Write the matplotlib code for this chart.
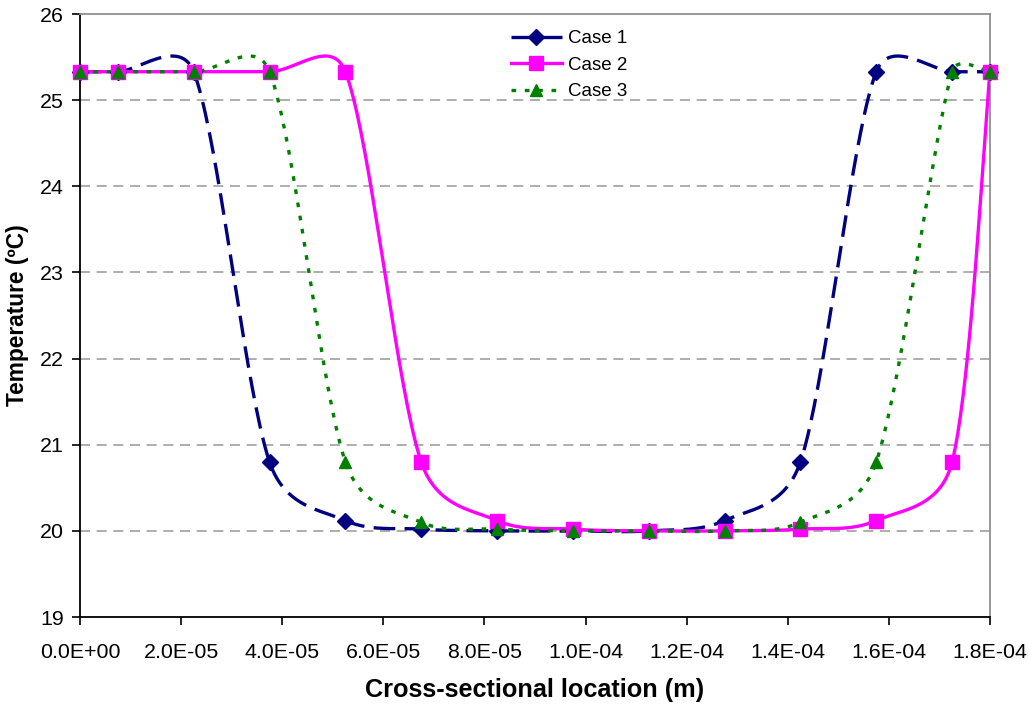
import numpy as np
import matplotlib.pyplot as plt

plt.rcParams['font.family'] = ['Liberation Sans', 'DejaVu Sans']

# cross-sectional sample positions (m)
x_pos = [0.0, 7.5e-6, 2.25e-5, 3.75e-5, 5.25e-5, 6.75e-5, 8.25e-5, 9.75e-5,
         1.125e-4, 1.275e-4, 1.425e-4, 1.575e-4, 1.725e-4, 1.8e-4]

# temperature (deg C)
case1 = [25.33, 25.33, 25.33, 20.80, 20.12, 20.02, 20.00, 20.00,
         20.00, 20.12, 20.80, 25.33, 25.33, 25.33]
case2 = [25.33, 25.33, 25.33, 25.33, 25.33, 20.80, 20.12, 20.02,
         20.00, 20.00, 20.02, 20.12, 20.80, 25.33]
case3 = [25.33, 25.33, 25.33, 25.33, 20.80, 20.10, 20.02, 20.00,
         20.00, 20.00, 20.10, 20.80, 25.33, 25.33]

x_ticks = np.arange(0, 1.81e-4, 2e-5)
x_tick_labels = ['0.0E+00', '2.0E-05', '4.0E-05', '6.0E-05', '8.0E-05',
                 '1.0E-04', '1.2E-04', '1.4E-04', '1.6E-04', '1.8E-04']
y_ticks = [19, 20, 21, 22, 23, 24, 25, 26]


def smooth_curve(ax, xs, ys, n=40):
    # spreadsheet-style smoothed line: cubic Bezier per segment, built in
    # display space; tangent = (next - prev) / 6, capped at half the segment
    pts = ax.transData.transform(np.column_stack([xs, ys]))
    m = len(pts)
    out = [pts[0]]
    t = np.linspace(0, 1, n)[1:, None]
    for i in range(m - 1):
        p0, p1 = pts[i], pts[i + 1]
        prev = pts[i - 1] if i > 0 else p0
        nxt = pts[i + 2] if i + 2 < m else p1
        half = np.hypot(*(p1 - p0)) / 2
        tan0 = (p1 - prev) / 6
        tan1 = (nxt - p0) / 6
        l0, l1 = np.hypot(*tan0), np.hypot(*tan1)
        if l0 > half:
            tan0 = tan0 * half / l0
        if l1 > half:
            tan1 = tan1 * half / l1
        c1 = p0 + tan0
        c2 = p1 - tan1
        seg = ((1 - t) ** 3) * p0 + 3 * ((1 - t) ** 2) * t * c1 \
            + 3 * (1 - t) * t ** 2 * c2 + t ** 3 * p1
        out.extend(seg)
    out = np.array(out)
    data = ax.transData.inverted().transform(out)
    return data[:, 0], data[:, 1]


fig = plt.figure(figsize=(10.29, 7.05), dpi=100)
ax = fig.add_axes([0.0777, 0.1248, 0.8844, 0.8553])
ax.set_xlim(0, 1.8e-4)
ax.set_ylim(19, 26)

for yv in y_ticks[1:-1]:
    ax.axhline(yv, color='#a0a0a0', lw=1.2, ls=(0, (6, 4)), zorder=0)

series = [
    ('Case 1', case1, '#000080', (0, (6.5, 2.8)), 'D', 8),
    ('Case 2', case2, '#ff00ff', '-', 's', 9.5),
    ('Case 3', case3, '#008000', (0, (1.4, 2.6)), '^', 8.5),
]

for label, ys, col, ls, mk, ms in series:
    sx, sy = smooth_curve(ax, x_pos, ys)
    ax.plot(sx, sy, color=col, lw=2.4, ls=ls, zorder=3)
    ax.plot(x_pos, ys, ls='none', marker=mk, ms=ms, color=col,
            markeredgecolor=col, zorder=4, clip_on=False)
    ax.plot([], [], color=col, lw=2.4, ls=ls, marker=mk, ms=ms, label=label)

ax.set_xticks(x_ticks)
ax.set_xticklabels(x_tick_labels)
ax.set_yticks(y_ticks)
ax.tick_params(axis='both', direction='out', length=5.5, width=1.2,
               labelsize=15.4, color='black')
ax.tick_params(axis='x', pad=13)
ax.tick_params(axis='y', pad=6)

for side in ['left', 'bottom']:
    ax.spines[side].set_color('black')
    ax.spines[side].set_linewidth(1.3)
for side in ['top', 'right']:
    ax.spines[side].set_color('#909090')
    ax.spines[side].set_linewidth(1.3)

ax.set_xlabel('Cross-sectional location (m)', fontsize=18.2, fontweight='bold', labelpad=12)
ax.set_ylabel('Temperature (ºC)', fontsize=16.4, fontweight='bold', labelpad=8)

leg = ax.legend(loc='upper left', bbox_to_anchor=(0.465, 0.986), frameon=False,
                fontsize=13.5, handlelength=2.75, handletextpad=0.3,
                labelspacing=0.5, borderaxespad=0)

fig.savefig('out.png', dpi=100)
